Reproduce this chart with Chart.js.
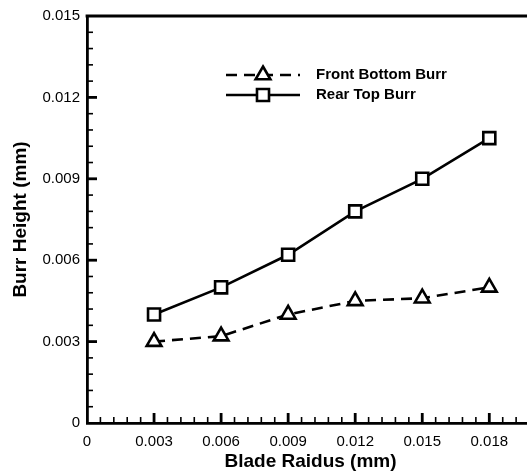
<!DOCTYPE html>
<html>
<head>
<meta charset="utf-8">
<script src="https://cdn.jsdelivr.net/npm/chart.js@4/dist/chart.umd.min.js"></script>
<style>
  html, body { margin: 0; padding: 0; background: #fff; overflow: hidden; }
  canvas { display: block; }
</style>
</head>
<body>
<canvas id="c" width="560" height="475"></canvas>
<script>
// Burr height versus blade radius
const bladeRadius     = [0.003, 0.006, 0.009, 0.012, 0.015, 0.018];
const frontBottomBurr = [0.0030, 0.0032, 0.0040, 0.0045, 0.0046, 0.0050];
const rearTopBurr     = [0.0040, 0.0050, 0.0062, 0.0078, 0.0090, 0.0105];
const seriesNames     = ['Front Bottom Burr', 'Rear Top Burr'];

const xTickValues = [0, 0.003, 0.006, 0.009, 0.012, 0.015, 0.018];
const xTickLabels = ['0', '0.003', '0.006', '0.009', '0.012', '0.015', '0.018'];
const yTickValues = [0, 0.003, 0.006, 0.009, 0.012, 0.015];
const yTickLabels = ['0', '0.003', '0.006', '0.009', '0.012', '0.015'];

const FONT = "'Liberation Sans', Arial, Helvetica, sans-serif";
const MINOR_STEP = 0.0006;

// Inward-pointing major/minor tick marks and the top frame line
const frameTicks = {
  id: 'frameTicks',
  afterDatasetsDraw(chart) {
    const { ctx, chartArea: a, scales: { x, y } } = chart;
    ctx.save();
    ctx.strokeStyle = '#000';
    ctx.lineCap = 'butt';
    // top frame
    ctx.lineWidth = 2.8;
    ctx.beginPath();
    ctx.moveTo(a.left - 1.4, a.top);
    ctx.lineTo(chart.width, a.top);
    ctx.stroke();
    // y ticks
    const yMinorCount = Math.round((y.max - y.min) / MINOR_STEP);
    for (let i = 1; i < yMinorCount; i++) {
      const major = i % 5 === 0;
      const py = y.getPixelForValue(y.min + i * MINOR_STEP);
      ctx.lineWidth = major ? 2.8 : 1.6;
      ctx.beginPath();
      ctx.moveTo(a.left, py);
      ctx.lineTo(a.left + (major ? 10 : 6), py);
      ctx.stroke();
    }
    // x ticks
    const xMinorCount = Math.floor((x.max - x.min) / MINOR_STEP + 1e-9);
    for (let i = 1; i <= xMinorCount; i++) {
      const major = i % 5 === 0;
      const px = x.getPixelForValue(x.min + i * MINOR_STEP);
      ctx.lineWidth = major ? 2.8 : 1.6;
      ctx.beginPath();
      ctx.moveTo(px, a.bottom);
      ctx.lineTo(px, a.bottom - (major ? 10 : 6));
      ctx.stroke();
    }
    ctx.restore();
  }
};

// Legend drawn as line samples with their markers
const lineLegend = {
  id: 'lineLegend',
  afterDraw(chart) {
    const { ctx } = chart;
    const x0 = 226, x1 = 300, xm = 263, xt = 316;
    const rows = [75, 95];
    ctx.save();
    chart.data.datasets.forEach((ds, i) => {
      const yy = rows[i];
      ctx.strokeStyle = ds.borderColor;
      ctx.lineWidth = ds.borderWidth;
      ctx.setLineDash(ds.borderDash || []);
      ctx.beginPath();
      ctx.moveTo(x0, yy);
      ctx.lineTo(x1, yy);
      ctx.stroke();
      ctx.setLineDash([]);
      ctx.fillStyle = ds.pointBackgroundColor;
      ctx.strokeStyle = ds.pointBorderColor;
      ctx.lineWidth = ds.pointBorderWidth;
      Chart.helpers.drawPoint(ctx, {
        pointStyle: ds.pointStyle, rotation: 0,
        radius: ds.pointRadius, borderWidth: ds.pointBorderWidth
      }, xm, yy);
      ctx.fillStyle = '#000';
      ctx.font = 'bold 15px ' + FONT;
      ctx.textAlign = 'left';
      ctx.textBaseline = 'middle';
      ctx.fillText(ds.label, xt, yy);
    });
    ctx.restore();
  }
};

const seriesStyle = {
  borderColor: '#000',
  borderWidth: 2.6,
  pointBackgroundColor: '#fff',
  pointBorderColor: '#000',
  pointBorderWidth: 2.6,
  pointRadius: 8.5,
  tension: 0,
  fill: false
};

new Chart(document.getElementById('c'), {
  type: 'line',
  data: {
    datasets: [
      Object.assign({}, seriesStyle, {
        label: seriesNames[0],
        data: bladeRadius.map((x, i) => ({ x, y: frontBottomBurr[i] })),
        borderDash: [11, 7],
        pointStyle: 'triangle'
      }),
      Object.assign({}, seriesStyle, {
        label: seriesNames[1],
        data: bladeRadius.map((x, i) => ({ x, y: rearTopBurr[i] })),
        pointStyle: 'rect'
      })
    ]
  },
  options: {
    responsive: false,
    animation: false,
    devicePixelRatio: 1,
    layout: { padding: { left: 0, top: 16, right: 26, bottom: 0 } },
    plugins: { legend: { display: false }, tooltip: { enabled: false } },
    scales: {
      x: {
        type: 'linear',
        min: 0,
        max: 0.02,
        afterBuildTicks: s => { s.ticks = xTickValues.map(v => ({ value: v })); },
        afterFit: s => { s.height = 52; },
        ticks: {
          callback: (v, i) => xTickLabels[i],
          font: { family: FONT, size: 15 },
          color: '#000',
          padding: 10,
          maxRotation: 0,
          autoSkip: false
        },
        grid: { drawOnChartArea: false, drawTicks: false },
        border: { display: true, color: '#000', width: 2.8 },
        title: {
          display: true,
          text: 'Blade Raidus (mm)',
          font: { family: FONT, size: 19, weight: 'bold' },
          color: '#000',
          padding: { top: 0, bottom: 2 }
        }
      },
      y: {
        type: 'linear',
        min: 0,
        max: 0.015,
        afterBuildTicks: s => { s.ticks = yTickValues.map(v => ({ value: v })); },
        afterFit: s => { s.width = 87; },
        ticks: {
          callback: (v, i) => yTickLabels[i],
          font: { family: FONT, size: 15 },
          color: '#000',
          padding: 7,
          autoSkip: false
        },
        grid: { drawOnChartArea: false, drawTicks: false },
        border: { display: true, color: '#000', width: 2.8 },
        title: {
          display: true,
          text: 'Burr Height (mm)',
          font: { family: FONT, size: 19, weight: 'bold' },
          color: '#000',
          padding: { top: 9, bottom: 0 }
        }
      }
    }
  },
  plugins: [frameTicks, lineLegend]
});
</script>
</body>
</html>
